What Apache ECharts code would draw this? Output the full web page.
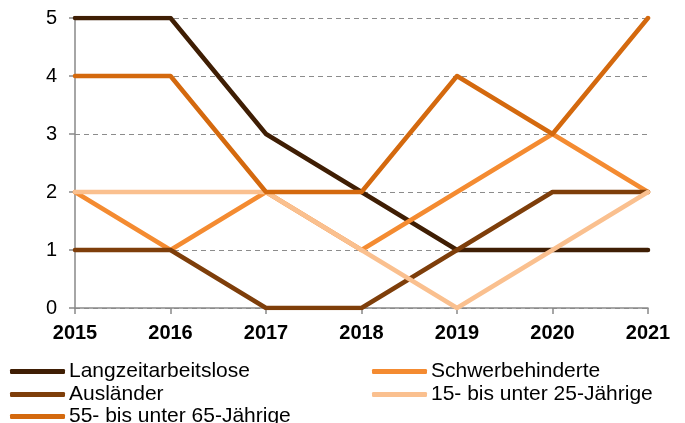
<!DOCTYPE html>
<html><head><meta charset="utf-8">
<script src="https://cdn.jsdelivr.net/npm/echarts@6/dist/echarts.min.js"></script>
<style>html,body{margin:0;padding:0;background:#fff}#c{width:685px;height:423px}</style>
</head><body><div id="c"></div>
<script>
var years = ['2015','2016','2017','2018','2019','2020','2021'];
var yTicks = [0,1,2,3,4,5];
var langzeit = [5,5,3,2,1,1,1];
var schwerbeh = [2,1,2,1,2,3,2];
var auslaender = [1,1,0,0,1,2,2];
var jung = [2,2,2,1,0,1,2];
var alt = [4,4,2,2,4,3,5];
var names = ['Langzeitarbeitslose','Schwerbehinderte','Ausländer','15- bis unter 25-Jährige','55- bis unter 65-Jährige'];
var colors = ['#3f1e04','#f48b31','#7e3e0a','#fac08f','#d4690e'];
var datas = [langzeit, schwerbeh, auslaender, jung, alt];

var chart = echarts.init(document.getElementById('c'));
var font = 'Liberation Sans, Arial, sans-serif';
var legPos = [[10,361],[372,361],[10,384],[372,384],[10,406]];
function mkLegend(i){
  return {left:legPos[i][0], top:legPos[i][1], data:[names[i]],
    itemWidth:55, itemHeight:5, itemGap:0, icon:'roundRect',
    textStyle:{fontFamily:font,fontSize:21,color:'#000',padding:[0,0,0,-1]},
    selectedMode:false, padding:0};
}
chart.setOption({
  animation:false,
  color: colors,
  grid:{left:75,right:37,top:18,bottom:115},
  legend:[0,1,2,3,4].map(mkLegend),
  xAxis:{
    type:'category', data:years, boundaryGap:false,
    axisLine:{lineStyle:{color:'#898989',width:1.5}},
    axisTick:{show:true,length:6,lineStyle:{color:'#898989',width:1.5}},
    axisLabel:{fontFamily:font,fontSize:20,fontWeight:'bold',color:'#000',margin:15}
  },
  yAxis:{
    type:'value', min:yTicks[0], max:yTicks[yTicks.length-1], interval:1,
    axisLine:{show:true,lineStyle:{color:'#898989',width:1.5}},
    axisTick:{show:true,length:6,lineStyle:{color:'#898989',width:1.5}},
    axisLabel:{fontFamily:font,fontSize:20,color:'#000',margin:18},
    splitLine:{show:true,lineStyle:{color:'#8c8c8c',type:[5,4],width:1}}
  },
  series: names.map(function(n,i){
    return {name:n,type:'line',data:datas[i],showSymbol:false,symbol:'none',
      lineStyle:{width:4.5,color:colors[i],cap:'round',join:'round'},itemStyle:{color:colors[i]}};
  })
});
</script></body></html>
